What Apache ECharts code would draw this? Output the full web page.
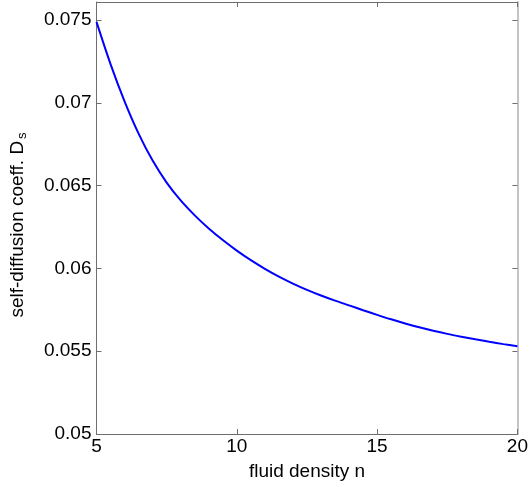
<!DOCTYPE html>
<html>
<head>
<meta charset="utf-8">
<script src="https://cdn.jsdelivr.net/npm/echarts@6/dist/echarts.min.js"></script>
<style>html,body{margin:0;padding:0;background:#fff}#c{width:531px;height:487px}</style>
</head>
<body>
<div id="c"></div>
<script>
const densityN = [5, 5.5, 6, 6.5, 7, 7.5, 8, 8.5, 9, 9.5, 10, 10.5, 11, 11.5, 12, 12.5, 13, 13.5, 14, 14.5, 15, 15.5, 16, 16.5, 17, 17.5, 18, 18.5, 19, 19.5, 20];
const diffCoeff = [0.07490, 0.07235, 0.07010, 0.06815, 0.06652, 0.06519, 0.06411, 0.06321, 0.06242, 0.06172, 0.06108, 0.06050, 0.05998, 0.05951, 0.05909, 0.05871, 0.05837, 0.05806, 0.05777, 0.05748, 0.05720, 0.05693, 0.05668, 0.05645, 0.05624, 0.05605, 0.05588, 0.05572, 0.05557, 0.05543, 0.05530];
const xTicks = [5, 10, 15, 20];
const yTicks = [0.05, 0.055, 0.06, 0.065, 0.07, 0.075];

const font = 'Liberation Sans, Arial, sans-serif';
const axisGray = '#6e6e6e';
const fs = 19;
const chart = echarts.init(document.getElementById('c'));
const pts = densityN.map((n, i) => [n, diffCoeff[i]]);
chart.setOption({
  animation: false,
  grid: {left: 96, right: 10, top: 2, bottom: 53},
  xAxis: [{
    type: 'value', min: 5, max: 20, interval: 5,
    name: 'fluid density n', nameLocation: 'middle', nameGap: 28,
    nameTextStyle: {fontFamily: font, fontSize: fs, color: '#000'},
    axisLine: {show: true, onZero: false, lineStyle: {color: axisGray, width: 1}},
    axisTick: {show: true, inside: true, length: 5, lineStyle: {color: axisGray}},
    axisLabel: {fontFamily: font, fontSize: fs, color: '#000', margin: 3,
      formatter: v => xTicks.includes(v) ? String(v) : ''},
    splitLine: {show: false}
  }, {
    type: 'value', min: 5, max: 20, interval: 5, position: 'top',
    axisLine: {show: true, onZero: false, lineStyle: {color: axisGray, width: 1}},
    axisTick: {show: true, inside: true, length: 5, lineStyle: {color: axisGray}},
    axisLabel: {show: false}, splitLine: {show: false}
  }],
  yAxis: [{
    type: 'value', min: 0.05, max: 0.0761, interval: 0.005,
    name: '{n|self-diffusion coeff. D}{s|s}', nameLocation: 'middle', nameGap: 68, nameRotate: 90,
    nameTextStyle: {fontFamily: font, fontSize: fs, color: '#000', padding: [0, 14, 0, 0],
      rich: {n: {fontFamily: font, fontSize: fs, color: '#000'},
             s: {fontFamily: font, fontSize: 13, color: '#000', verticalAlign: 'bottom', padding: [9, 0, 0, 2]}}},
    axisLine: {show: true, onZero: false, lineStyle: {color: axisGray, width: 1}},
    axisTick: {show: true, inside: true, length: 5, lineStyle: {color: axisGray}},
    axisLabel: {fontFamily: font, fontSize: fs, color: '#000', margin: 5, showMaxLabel: false,
      formatter: v => { const t = yTicks.find(y => Math.abs(y - v) < 1e-9); return t === undefined ? '' : String(t); }},
    splitLine: {show: false}
  }, {
    type: 'value', min: 0.05, max: 0.0761, interval: 0.005, position: 'right',
    axisLine: {show: true, onZero: false, lineStyle: {color: '#c4c4c4', width: 2}},
    axisTick: {show: true, inside: true, length: 5, lineStyle: {color: axisGray}},
    axisLabel: {show: false}, splitLine: {show: false}
  }],
  series: [{
    type: 'line', data: pts, smooth: 0.3, showSymbol: false,
    lineStyle: {color: '#0000ff', width: 2}, clip: true
  }]
});
</script>
</body>
</html>
